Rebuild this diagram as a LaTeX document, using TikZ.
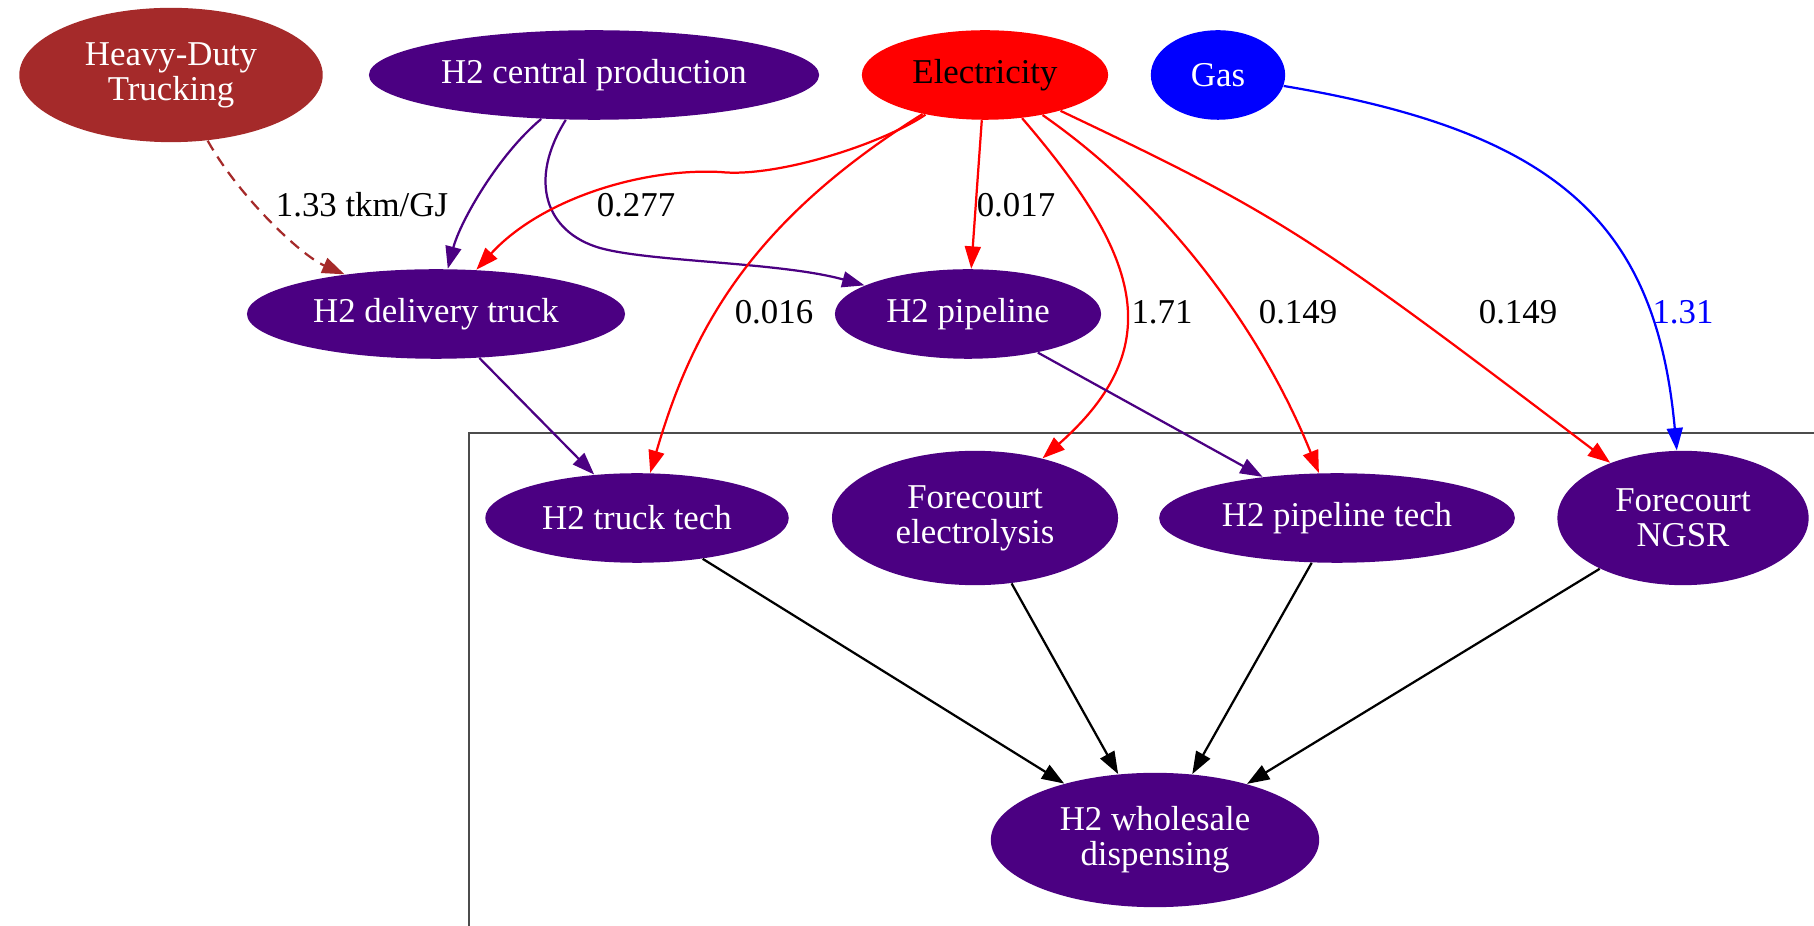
\documentclass[tikz,border=0pt]{standalone}
\usepackage{xcolor}
\usepackage{fontspec}
\setmainfont{Liberation Serif}
\usepackage{tikz}
\usetikzlibrary{shapes.geometric, arrows.meta}

\definecolor{hindigo}{HTML}{4B0082}
\definecolor{hbrown}{HTML}{A52A2A}

\begin{document}
\begin{tikzpicture}[
    x=0.402pt, y=-0.402pt,
    every node/.style={font=\fontsize{14}{14}\selectfont},
    proc/.style={ellipse, inner sep=0pt, fill=hindigo, text=white, align=center, minimum height=36pt},
    tall/.style={minimum height=54pt},
    lbl/.style={inner sep=1pt},
    arrow/.style={-{Triangle[length=9pt, width=6.4pt]}, line width=0.9pt},
    cluster/.style={draw=black!70, line width=1pt}
]
    \useasboundingbox (0,0) rectangle (1814,926);

    % Cluster frame
    \draw[cluster] (1830,433) -| (469,950);

    % Top row inputs
    \node[proc, tall, fill=hbrown, minimum width=122pt] (hdt) at (171,75) {Heavy-Duty\\Trucking};
    \node[proc, minimum width=181pt] (central) at (594,75) {H2 central production};
    \node[proc, fill=red, text=black, minimum width=99pt] (elec) at (985,75) {Electricity};
    \node[proc, fill=blue, minimum width=54pt] (gas) at (1218,75) {Gas};

    % Delivery
    \node[proc, minimum width=152pt] (deltruck) at (436,314) {H2 delivery truck};
    \node[proc, minimum width=107pt] (pipeline) at (968,314) {H2 pipeline};

    % Technologies
    \node[proc, minimum width=122pt] (trucktech) at (637,518) {H2 truck tech};
    \node[proc, tall, minimum width=115pt] (fcelec) at (975,518) {Forecourt\\electrolysis};
    \node[proc, minimum width=143pt] (pipetech) at (1337,518) {H2 pipeline tech};
    \node[proc, tall, minimum width=101pt] (ngsr) at (1683,518) {Forecourt\\NGSR};

    % Dispensing
    \node[proc, tall, minimum width=132pt] (wholesale) at (1155,840) {H2 wholesale\\dispensing};

    % Arrows into delivery
    \draw[arrow, hbrown, dash pattern=on 4.5pt off 3pt] (hdt) .. controls (238,195) and (300,255) .. (deltruck)
        node[lbl, text=black] (ltkm) at (362,205) {1.33 tkm/GJ};
    \draw[arrow, hindigo] (central) .. controls (498,155) and (460,222) .. (deltruck);
    \draw[arrow, hindigo] (central) .. controls (528,180) and (545,232) .. (600,248)
        .. controls (650,262) and (780,262) .. (pipeline);
    \draw[arrow, red] (elec) .. controls (880,145) and (775,178) .. (720,172)
        .. controls (640,168) and (540,200) .. (deltruck)
        node[lbl, text=black] (lel) at (636,205) {0.277};
    \draw[arrow, red] (elec) -- (pipeline)
        node[lbl, text=black] (lpl) at (1016,205) {0.017};

    % Electricity and gas to technologies
    \draw[arrow, red] (elec) .. controls (750,222) and (692,330) .. (trucktech)
        node[lbl, text=black] (ltt) at (774,312) {0.016};
    \draw[arrow, red] (elec) .. controls (1137,252) and (1172,344) .. (fcelec)
        node[lbl, text=black] (lfe) at (1162,312) {1.71};
    \draw[arrow, red] (elec) .. controls (1169,203) and (1263,334) .. (pipetech)
        node[lbl, text=black] (lpt) at (1298,312) {0.149};
    \draw[arrow, red] (elec) .. controls (1280,215) and (1310,235) .. (ngsr)
        node[lbl, text=black] (lng) at (1518,312) {0.149};
    \draw[arrow, blue] (gas) .. controls (1559,132) and (1656,224) .. (ngsr)
        node[lbl, text=blue] (lgas) at (1683,312) {1.31};

    % Delivery to technologies
    \draw[arrow, hindigo] (deltruck) -- (trucktech);
    \draw[arrow, hindigo] (pipeline) -- (pipetech);

    % Technologies to dispensing
    \draw[arrow] (trucktech) -- (wholesale);
    \draw[arrow] (fcelec) -- (wholesale);
    \draw[arrow] (pipetech) -- (wholesale);
    \draw[arrow] (ngsr) -- (wholesale);

\end{tikzpicture}
\end{document}
